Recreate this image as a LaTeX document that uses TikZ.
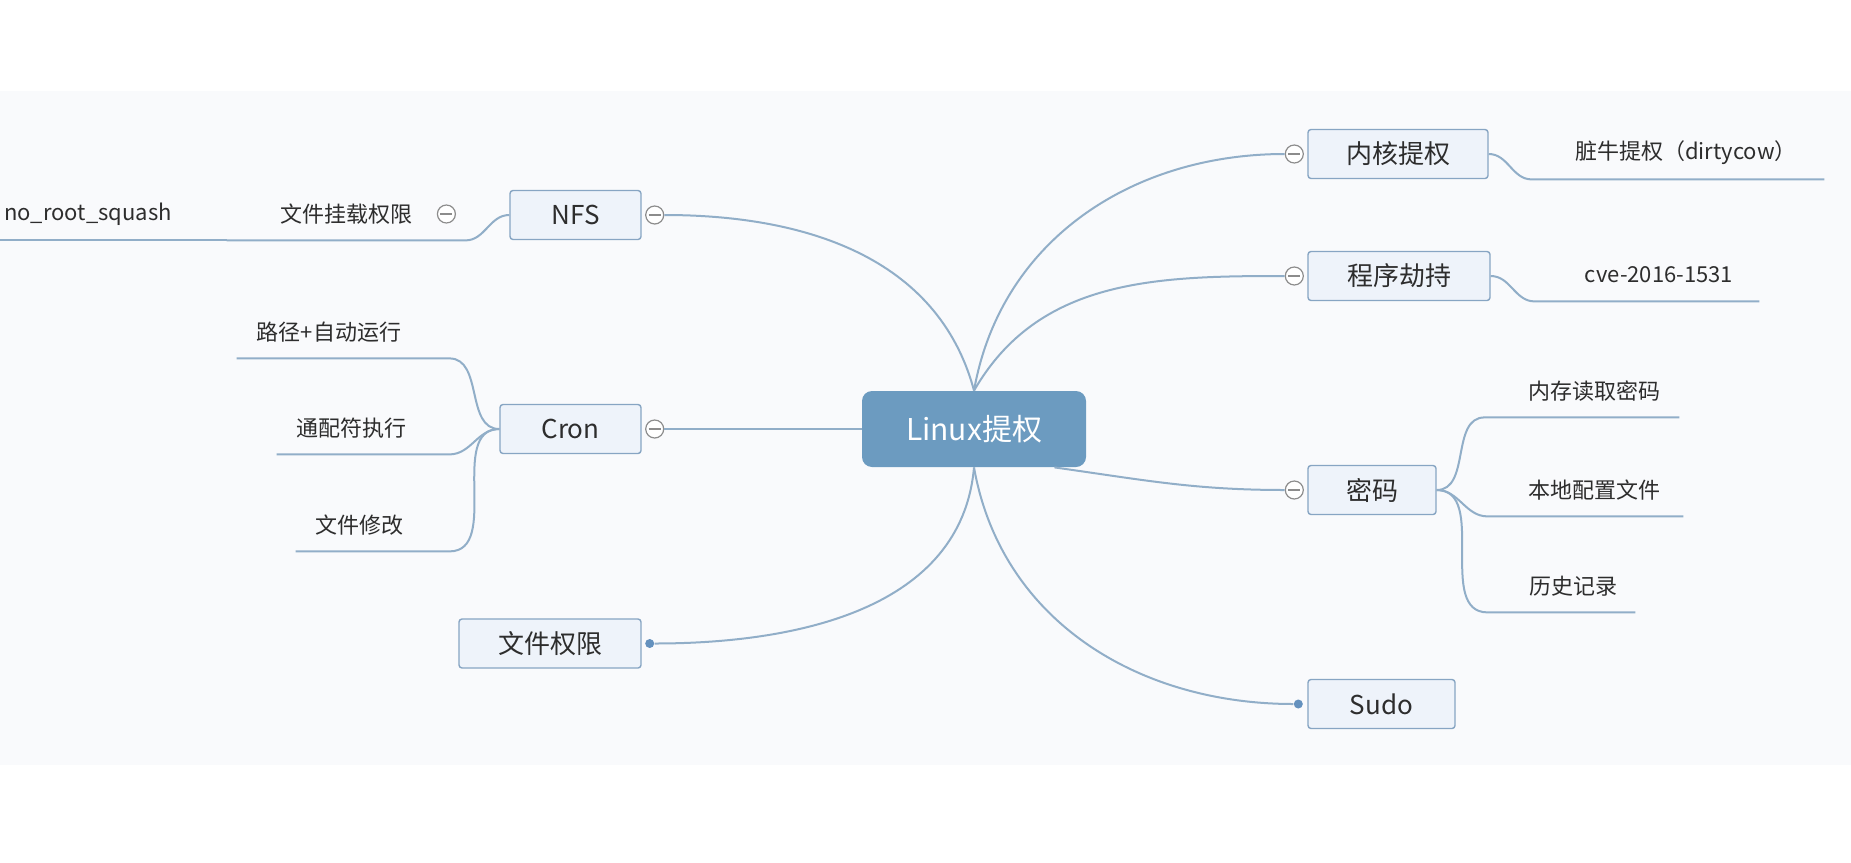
\documentclass[tikz,border=0pt]{standalone}
\usepackage{fontspec}
\setmainfont{Noto Sans CJK SC}

\definecolor{bandbg}{RGB}{249,250,252}
\definecolor{linkcol}{RGB}{145,174,200}
\definecolor{rootblue}{RGB}{108,155,192}
\definecolor{boxfill}{RGB}{238,243,250}
\definecolor{boxline}{RGB}{135,165,195}
\definecolor{togglegray}{RGB}{140,140,140}
\definecolor{dotblue}{RGB}{100,145,190}
\definecolor{txt}{RGB}{45,45,45}

\tikzset{
  link/.style={draw=linkcol,line width=1pt},
  rootbox/.style={fill=rootblue,rounded corners=5pt,text=white,
    font=\fontsize{15}{18}\selectfont,minimum width=112pt,minimum height=38pt},
  topic/.style={draw=boxline,fill=boxfill,line width=0.7pt,rounded corners=1.5pt,
    text=txt,font=\fontsize{13}{15}\selectfont,minimum height=24.5pt},
  leaf/.style={text=txt,font=\fontsize{11}{13}\selectfont,inner sep=0pt,minimum height=26pt},
  toggle/.style={circle,draw=togglegray,fill=white,line width=0.6pt,minimum size=9pt,inner sep=0pt,
    path picture={\draw[togglegray,line width=0.6pt]
      ([xshift=-3pt]path picture bounding box.center) -- ([xshift=3pt]path picture bounding box.center);}},
  knob/.style={circle,fill=dotblue,minimum size=4.5pt,inner sep=0pt}
}

\begin{document}
\begin{tikzpicture}[x=0.5pt,y=0.5pt]
\useasboundingbox (0,0) rectangle (1851,-862);
\fill[bandbg] (0,-91) rectangle (1851,-765);

\node[rootbox] (root) at (974,-429) {Linux提权};

% left side
\node[topic,minimum width=65.5pt] (nfs) at (575.5,-215) {NFS};
\node[toggle] (nfsT) at ([xshift=6.5pt]nfs.east) {};
\node[leaf,minimum width=119pt] (mount) at (346,-214) {文件挂载权限};
\node[toggle] (mountT) at ([xshift=-9.5pt]mount.east) {};
\node[leaf,minimum width=88pt] (squash) at (88,-214) {no\_root\_squash};

\node[topic,minimum width=70.5pt] (cron) at (570.5,-429) {Cron};
\node[toggle] (cronT) at ([xshift=6.5pt]cron.east) {};
\node[leaf,minimum width=92pt] (path) at (329,-332) {路径+自动运行};
\node[leaf,minimum width=74pt] (wild) at (351,-428) {通配符执行};
\node[leaf,minimum width=63pt] (modify) at (359,-525) {文件修改};

\node[topic,minimum width=91pt] (perm) at (550,-643.5) {文件权限};
\node[knob] (permD) at ([xshift=4pt]perm.east) {};

% right side
\node[topic,minimum width=90pt] (kernel) at (1398,-154) {内核提权};
\node[toggle] (kernelT) at ([xshift=-6.5pt]kernel.west) {};
\node[leaf,minimum width=138pt] (dirty) at (1686,-153) {脏牛提权（dirtycow）};

\node[topic,minimum width=91pt] (prog) at (1399,-276) {程序劫持};
\node[toggle] (progT) at ([xshift=-6.5pt]prog.west) {};
\node[leaf,minimum width=100pt] (cve) at (1659,-275) {cve-2016-1531};

\node[topic,minimum width=64pt] (pwd) at (1372,-490) {密码};
\node[toggle] (pwdT) at ([xshift=-6.5pt]pwd.west) {};
\node[leaf,minimum width=85pt] (mem) at (1594,-391) {内存读取密码};
\node[leaf,minimum width=89pt] (local) at (1594,-490) {本地配置文件};
\node[leaf,minimum width=62pt] (hist) at (1573,-586) {历史记录};

\node[topic,minimum width=73.5pt] (sudo) at (1381.5,-704) {Sudo};
\node[knob] (sudoD) at ([xshift=-4.5pt]sudo.west) {};

% branches from the centre
\draw[link] (nfsT.east) to[out=0,in=105] (root.north);
\draw[link] (cronT.east) -- (root.west);
\draw[link] (permD.east) to[out=0,in=-95] (root.south);
\draw[link] (root.north) to[out=80,in=180] (kernelT.west);
\draw[link] (root.north) to[out=60,in=180] (progT.west);
\draw[link] ([xshift=-16pt]root.south east) to[out=-8,in=180] (pwdT.west);
\draw[link] (root.south) to[out=-80,in=180] (sudoD.west);

% sub branches
\draw[link] (nfs.west) to[out=180,in=0] (mount.south east) -- (mount.south west);
\draw[link] (mount.south west) -- (squash.south east) -- (squash.south west);
\draw[link] (cron.west) to[out=180,in=0] ([xshift=14pt]path.south east) -- (path.south west);
\draw[link] (cron.west) to[out=180,in=0] ([xshift=12pt]wild.south east) -- (wild.south west);
\draw[link] (cron.west) to[out=180,in=0] ([xshift=13.5pt]modify.south east) -- (modify.south west);
\draw[link] (kernel.east) to[out=0,in=180] ([xshift=-8pt]dirty.south west) -- (dirty.south east);
\draw[link] (prog.east) to[out=0,in=180] ([xshift=-12pt]cve.south west) -- (cve.south east);
\draw[link] (pwd.east) to[out=0,in=180] ([xshift=-12pt]mem.south west) -- (mem.south east);
\draw[link] (pwd.east) to[out=0,in=180] ([xshift=-8.5pt]local.south west) -- (local.south east);
\draw[link] (pwd.east) to[out=0,in=180] ([xshift=-11.5pt]hist.south west) -- (hist.south east);
\end{tikzpicture}
\end{document}
